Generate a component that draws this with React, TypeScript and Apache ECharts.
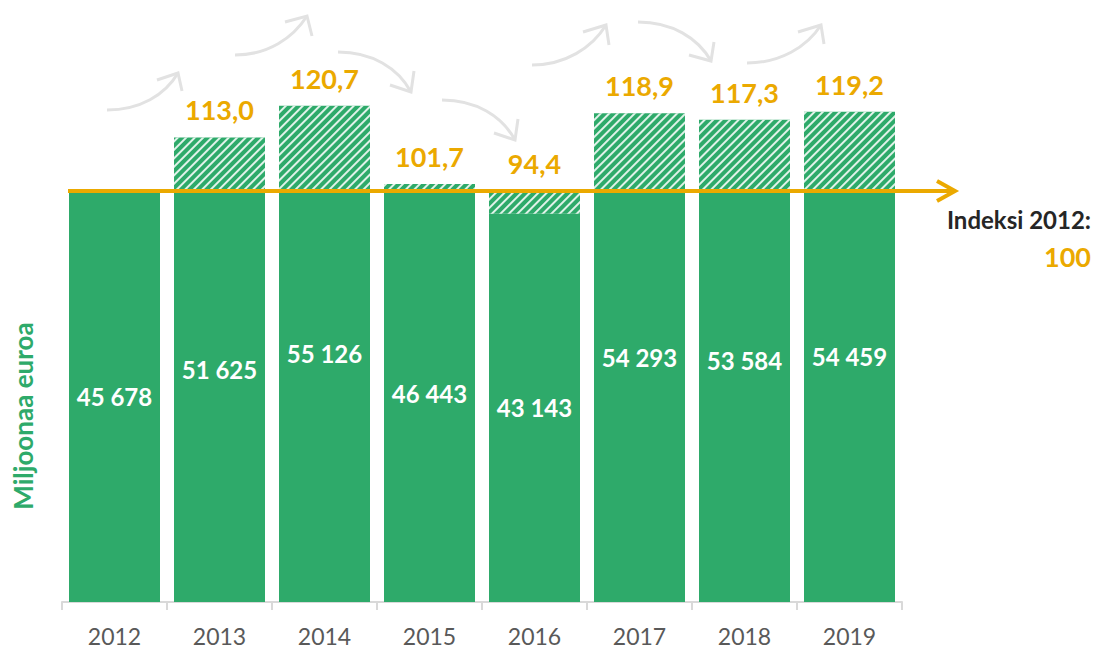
import React, { useEffect, useRef } from "react";
import * as echarts from "echarts";

const years = ["2012", "2013", "2014", "2015", "2016", "2017", "2018", "2019"];
const values = [45678, 51625, 55126, 46443, 43143, 54293, 53584, 54459];
const indexValues = [100, 113.0, 120.7, 101.7, 94.4, 118.9, 117.3, 119.2];
const baseValue = values[0];

const GREEN = "#2EAA6A";
const ORANGE = "#EBA900";
const FONT = "Lato, 'Open Sans', sans-serif";

const fmtThousands = (v: number) => String(v).replace(/\B(?=(\d{3})+(?!\d))/g, " ");
const fmtIndex = (v: number) => v.toFixed(1).replace(".", ",");

// decorative curved arrows: [start, cp1, cp2, end, arm1, arm2]
const curvedArrows: number[][][] = [
  [[107, 110], [140, 110], [165, 95], [178, 73], [157, 80], [182, 91]],
  [[235, 55], [268, 55], [293, 38], [307, 16], [285, 22], [312, 36]],
  [[338, 52], [372, 52], [398, 68], [411, 92], [390, 85], [414, 71]],
  [[442, 100], [476, 100], [502, 116], [515, 140], [494, 133], [518, 119]],
  [[532, 65], [565, 65], [592, 48], [606, 25], [583, 32], [609, 45]],
  [[638, 22], [672, 22], [698, 38], [711, 61], [689, 55], [714, 42]],
  [[747, 63], [780, 63], [807, 47], [821, 25], [798, 32], [824, 44]],
];

export default function App() {
  const ref = useRef<HTMLDivElement>(null);
  useEffect(() => {
    document.body.style.margin = "0";
    if (!ref.current) return;
    const chart = echarts.init(ref.current, null, { renderer: "svg" });
    const solid = values.map((v) => Math.min(v, baseValue));
    const hatch = values.map((v) => Math.abs(v - baseValue));
    chart.setOption({
      animation: false,
      grid: { left: 62, right: 194, top: 62, bottom: 48 },
      xAxis: {
        type: "category",
        data: years,
        axisLine: { lineStyle: { color: "#d9d9d9", width: 2 } },
        axisTick: { show: true, length: 8, lineStyle: { color: "#d9d9d9", width: 2 } },
        axisLabel: { color: "#595959", fontSize: 23, margin: 22, fontFamily: FONT },
      },
      yAxis: { type: "value", min: 0, max: 60000, show: false, splitLine: { show: false } },
      series: [
        {
          type: "bar",
          stack: "a",
          data: solid,
          barWidth: 91,
          itemStyle: { color: GREEN },
        },
        {
          type: "bar",
          stack: "a",
          data: hatch,
          barWidth: 91,
          itemStyle: {
            color: GREEN,
            decal: {
              symbol: "rect",
              symbolSize: 1,
              color: "rgba(255,255,255,0.85)",
              dashArrayX: [1, 0],
              dashArrayY: [1.5, 3.5],
              rotation: -Math.PI / 4,
            },
          },
          label: {
            show: true,
            position: "top",
            distance: 14,
            color: ORANGE,
            fontSize: 27,
            fontWeight: "bold",
            fontFamily: FONT,
            formatter: (p: any) => (p.dataIndex === 0 ? "" : fmtIndex(indexValues[p.dataIndex])),
          },
        },
        {
          type: "bar",
          data: values,
          barWidth: 91,
          barGap: "-100%",
          z: 5,
          itemStyle: { color: "rgba(0,0,0,0)" },
          label: {
            show: true,
            position: "inside",
            color: "#ffffff",
            fontSize: 24,
            fontWeight: "bold",
            fontFamily: FONT,
            formatter: (p: any) => fmtThousands(p.value),
          },
        },
      ],
    });

    const yLine = chart.convertToPixel({ yAxisIndex: 0 }, baseValue) as number;
    const graphics: any[] = [];
    curvedArrows.forEach((a) => {
      graphics.push({
        type: "bezierCurve",
        shape: {
          x1: a[0][0], y1: a[0][1], cpx1: a[1][0], cpy1: a[1][1],
          cpx2: a[2][0], cpy2: a[2][1], x2: a[3][0], y2: a[3][1],
        },
        style: { stroke: "#e2e2e2", lineWidth: 3, fill: null },
        z: 50,
      });
      graphics.push({
        type: "polyline",
        shape: { points: [a[4], a[3], a[5]] },
        style: { stroke: "#e2e2e2", lineWidth: 3, fill: null },
        z: 50,
      });
    });
    graphics.push({
      type: "line",
      shape: { x1: 68, y1: yLine, x2: 954, y2: yLine },
      style: { stroke: ORANGE, lineWidth: 4 },
      z: 100,
    });
    graphics.push({
      type: "polyline",
      shape: { points: [[937, yLine - 10], [955, yLine], [937, yLine + 10]] },
      style: { stroke: ORANGE, lineWidth: 4, fill: null },
      z: 100,
    });
    graphics.push({
      type: "text",
      x: 1091,
      y: 219,
      style: {
        text: "Indeksi 2012:",
        fill: "#262626",
        font: `bold 24px ${FONT}`,
        align: "right",
        verticalAlign: "middle",
      },
      z: 100,
    });
    graphics.push({
      type: "text",
      x: 1091,
      y: 256,
      style: {
        text: String(indexValues[0]),
        fill: ORANGE,
        font: `bold 27px ${FONT}`,
        align: "right",
        verticalAlign: "middle",
      },
      z: 100,
    });
    graphics.push({
      type: "text",
      x: 23,
      y: 416,
      rotation: Math.PI / 2,
      style: {
        text: "Miljoonaa euroa",
        fill: GREEN,
        font: `bold 26px ${FONT}`,
        align: "center",
        verticalAlign: "middle",
      },
      z: 100,
    });
    chart.setOption({ graphic: graphics });

    return () => chart.dispose();
  }, []);
  return <div ref={ref} style={{ width: 1096, height: 650 }} />;
}
